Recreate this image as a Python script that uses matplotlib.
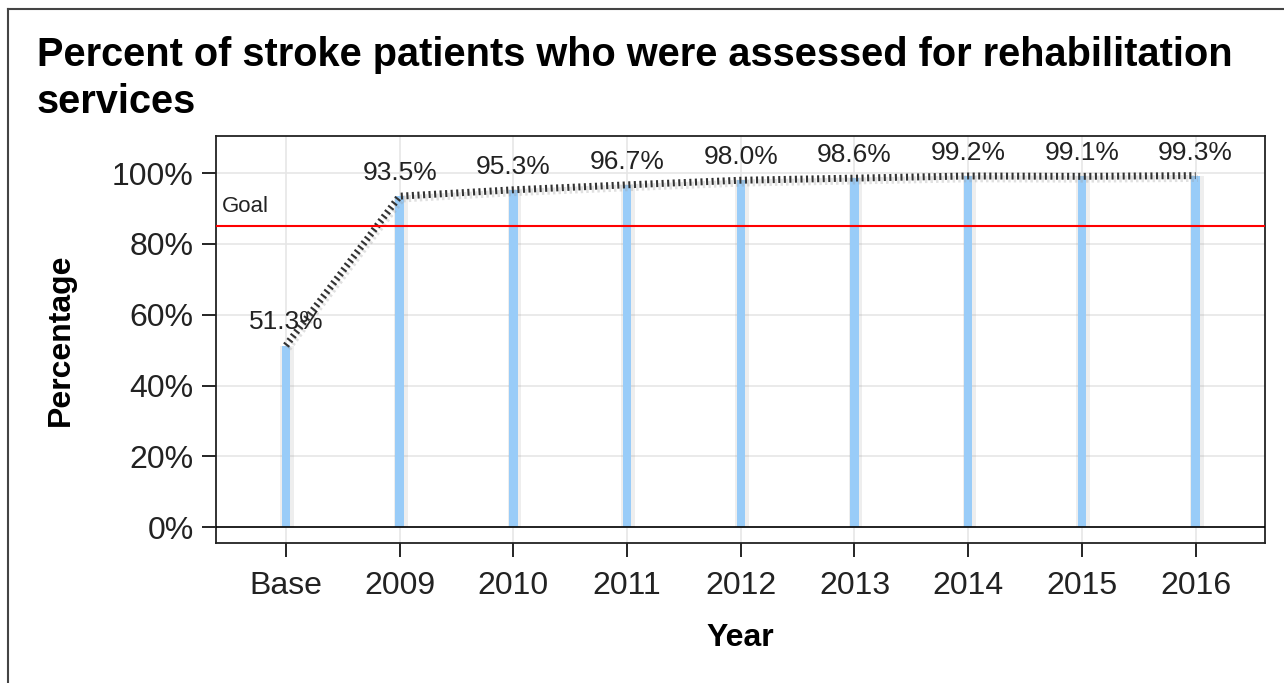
import matplotlib.pyplot as plt
from matplotlib.lines import Line2D
from matplotlib.ticker import FuncFormatter

# data
years = ["Base", "2009", "2010", "2011", "2012", "2013", "2014", "2015", "2016"]
percent = [51.3, 93.5, 95.3, 96.7, 98.0, 98.6, 99.2, 99.1, 99.3]
goal = 85
title = "Percent of stroke patients who were assessed for rehabilitation\nservices"

plt.rcParams["font.family"] = ["Liberation Sans", "DejaVu Sans"]

fig = plt.figure(figsize=(12.84, 6.83), dpi=100)
ax = fig.add_axes([216 / 1284, 1 - 543 / 683, (1265 - 216) / 1284, (543 - 136) / 683])

x = list(range(len(years)))

# outer frame of the figure panel (left and top edges only visible)
fig.add_artist(Line2D([8 / 1284, 8 / 1284], [0, 1 - 9 / 683], color="#444444", lw=1.5))
fig.add_artist(Line2D([8 / 1284, 1], [1 - 9 / 683, 1 - 9 / 683], color="#444444", lw=1.5))

fig.text(37 / 1284, 1 - 36 / 683, title, fontsize=28.6, fontweight="bold", va="top",
         ha="left", linespacing=1.3)

# soft shadow behind the needles, then the needles
ax.bar([i + 0.01 for i in x], percent, width=0.12, color="#777777", alpha=0.12, zorder=2)
ax.bar(x, percent, width=0.075, color="#99CCF8", zorder=3)

# trend line with a faint shadow
ax.plot([i + 0.02 for i in x], [p - 0.8 for p in percent], color="#999999", lw=5,
        linestyle=(0, (0.35, 0.45)), alpha=0.3, zorder=3)
ax.plot(x, percent, color="#333333", lw=5, linestyle=(0, (0.3, 0.5)), zorder=4)

for xi, p in zip(x, percent):
    ax.annotate(f"{p:.1f}%", (xi, p), xytext=(0, 8), textcoords="offset points",
                ha="center", va="bottom", fontsize=19, color="#222222", zorder=5)

ax.axhline(goal, color="#FF0000", lw=1.5, zorder=4)
ax.text(-0.56, goal + 2.5, "Goal", fontsize=16, color="#222222", va="bottom", ha="left")
ax.axhline(0, color="black", lw=1.2, zorder=4)

ax.set_xlim(-0.615, 8.61)
ax.set_ylim(-4.5, 110.5)
ax.set_xticks(x)
ax.set_xticklabels(years)
ax.set_yticks(range(0, 101, 20))
ax.yaxis.set_major_formatter(FuncFormatter(lambda v, _: f"{v:.0f}%"))
ax.tick_params(axis="both", labelsize=23, length=10, width=1.2, colors="black",
               labelcolor="#222222")
ax.tick_params(axis="x", pad=10)
ax.tick_params(axis="y", pad=6)
ax.grid(True, color="#E6E6E6", lw=1.2, zorder=0)
ax.set_axisbelow(True)
for s in ax.spines.values():
    s.set_color("#222222")
    s.set_linewidth(1.3)

ax.set_xlabel("Year", fontsize=23, fontweight="bold", labelpad=16)
ax.set_ylabel("Percentage", fontsize=23, fontweight="bold", labelpad=26)

fig.savefig("out.png", dpi=100)
